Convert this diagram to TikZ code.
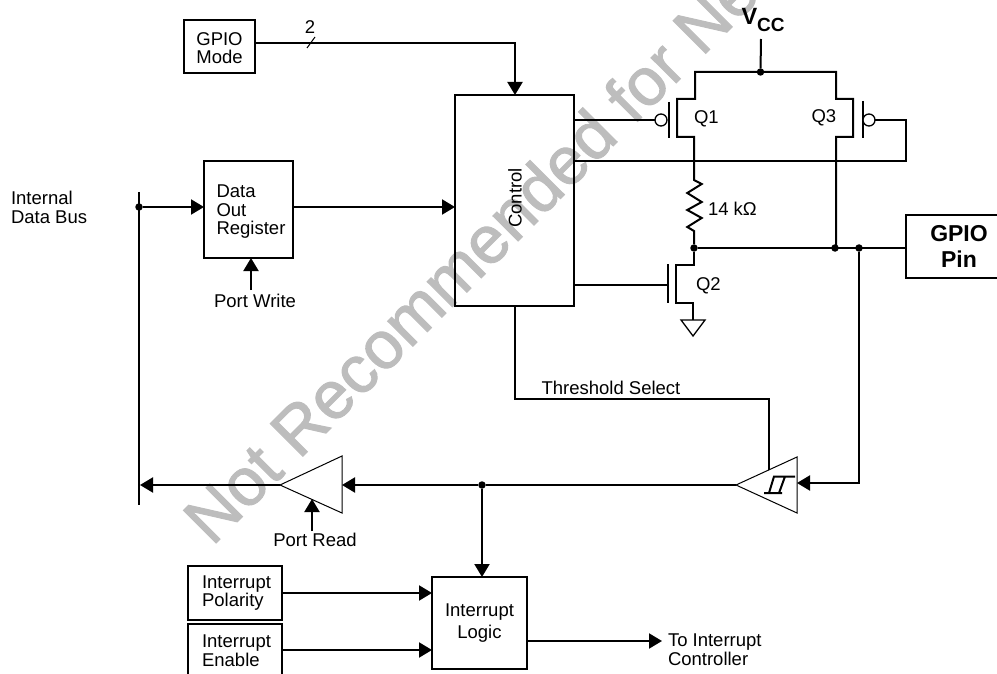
\documentclass[tikz,border=0pt]{standalone}
\usepackage{fontspec}
\setmainfont{Liberation Sans}
\newfontfamily\wmfont[FakeBold=1.6]{Liberation Sans}
\usetikzlibrary{arrows.meta,calc}
\tikzset{
  x=1pt,y=-1pt,
  wire/.style={line width=2pt},
  thin wire/.style={line width=1pt},
  arrowed/.style={wire,-{Triangle[length=13pt,width=15pt]},shorten >=0pt},
  box/.style={draw,line width=2pt,inner sep=0pt,outer sep=0pt,align=left,font=\fontsize{18.5}{18.8}\selectfont},
  lbl/.style={inner sep=0pt,outer sep=0pt,align=left,font=\fontsize{18.5}{18.8}\selectfont},
  junction/.style={circle,fill=black,inner sep=0pt,outer sep=0pt,minimum size=7.5pt},
  bubble/.style={circle,draw,fill=white,line width=1.3pt,inner sep=0pt,outer sep=0pt,minimum size=12pt},
}
\definecolor{mark}{gray}{0.74}
\begin{document}
\begin{tikzpicture}
\useasboundingbox (0,0) rectangle (997,674);
% watermark
\node[anchor=base west,rotate=45,inner sep=0pt,text=mark,font=\wmfont\fontsize{67}{67}\selectfont] (wm) at (212,547) {Not Recommended for Ne};
% boxes
\node[box,minimum width=71pt,minimum height=53pt] (mode) at (219.5,46.5) {\rule{0pt}{16pt}GPIO\\Mode};
\node[box,minimum width=119pt,minimum height=211pt] (ctrl) at (514.5,200.5) {};
\node[lbl,rotate=90] (ctrltext) at (515,198) {Control};
\node[box,minimum width=89pt,minimum height=97pt] (dor) at (248.5,209.5) {\rule{0pt}{17pt}\hspace*{5pt}Data\\\hspace*{5pt}Out\\\hspace*{5pt}Register};
\node[box,minimum width=94pt,minimum height=54pt] (pol) at (235,593) {\hspace*{3pt}Interrupt\\\hspace*{3pt}Polarity};
\node[box,minimum width=94pt,minimum height=54pt] (ena) at (235,651) {\hspace*{3pt}Interrupt\\\hspace*{3pt}Enable};
\node[box,minimum width=95pt,minimum height=92pt,align=center] (ilog) at (479.5,623) {Interrupt\\[3pt]Logic};
\node[box,minimum width=106pt,minimum height=63pt,align=center,font=\fontsize{23}{26}\bfseries\selectfont] (pin) at (959,246.5) {GPIO\\Pin};
% labels
\node[lbl,anchor=west] (bus) at (11,207) {Internal\\Data Bus};
\node[lbl] (pw) at (255,300.5) {Port Write};
\node[lbl] (pr) at (315,539.5) {Port Read};
\node[lbl] (ts) at (611,388) {Threshold Select};
\node[lbl,anchor=west] (toic) at (668,650) {To Interrupt\\Controller};
\node[lbl] (two) at (310,27) {2};
\node[lbl,anchor=west] (q1) at (694,118.5) {Q1};
\node[lbl,anchor=west] (q3) at (811.5,117.5) {Q3};
\node[lbl,anchor=west] (q2) at (696,285.5) {Q2};
\node[lbl,anchor=west] (res) at (708,208.5) {14 kΩ};
\node[anchor=base west,inner sep=0pt,font=\fontsize{23.5}{24}\bfseries\selectfont] (v) at (741.5,25) {V};
\node[anchor=base west,inner sep=0pt,font=\fontsize{19}{20}\bfseries\selectfont] (cc) at (757,32) {CC};
% junctions
\node[junction] (jbus) at (139,207) {};
\node[junction] (jvcc) at (760.5,72) {};
\node[junction] (jmid) at (694,248) {};
\node[junction] (jq3) at (835,248) {};
\node[junction] (jin) at (859,248) {};
\node[junction] (jrd) at (482,485) {};
% named free ends
\coordinate (bustop) at (139,192);
\coordinate (busbot) at (139,505);
\coordinate (pwb) at (251,290);
\coordinate (pwt) at (251,258);
\coordinate (prb) at (312,531);
\coordinate (prt) at (312,499);
\coordinate (buftip) at (280,485);
\coordinate (bufr) at (342,485);
\coordinate (schtip) at (736,485);
\coordinate (schr) at (797,483);
\coordinate (busend) at (140,485);
\coordinate (vcctop) at (761,39);
\coordinate (ticend) at (662,641);
% buffers
\draw[thin wire,line join=miter] (buftip) -- (342,456) -- (342,513) -- cycle;
\draw[thin wire,line join=miter] (schtip) -- (797,457) -- (797,513) -- cycle;
% bus
\draw[wire] (bustop) -- (busbot);
\draw[arrowed] (jbus) -- (dor.west |- jbus);
\draw[arrowed] (pwb) -- (pwt);
\draw[arrowed] (prb) -- (prt);
\draw[arrowed] (buftip) -- (busend);
\draw[wire] (schtip) -- (jrd);
\draw[arrowed] (jrd) -- (bufr);
\draw[arrowed] (jrd) -- (jrd |- ilog.north);
\draw[arrowed] (pol.east) -- (ilog.west |- pol.east);
\draw[arrowed] (ena.east |- 0,650) -- (ilog.west |- 0,650);
\draw[arrowed] (ilog.east |- ticend) -- (ticend);
% control wiring
\draw[arrowed] (mode.east |- 0,43) -- (515,43) -- (515,95);
\draw[thin wire] (307,48) -- (315,37);
\draw[arrowed] (dor.east |- 0,207) -- (ctrl.west |- 0,207);
\draw[wire] (515,306) -- (515,399) -- (769,399) -- (769,470);
\draw[arrowed] (jin) -- (859,483) -- (schr);
% schmitt glyph
\draw[wire] (773,476.5) -- (795,476.5) (764,493) -- (782,493) (774,476.5) -- (769,493) (785,476.5) -- (779,493);
% Vcc rail and PMOS
\draw[wire] (vcctop) -- (jvcc);
\draw[wire,line join=miter] (jmid) -- (694,231) -- (687.3,227) -- (701.7,218) -- (687.3,210) -- (701.7,202) -- (687.3,193) -- (701.7,184) -- (694,180) -- (694,137) -- (677,137) -- (677,99) -- (695,99) -- (695,72) -- (836,72) -- (836,99) -- (853,99) -- (853,137) -- (836,137) -- (836,248);
\draw[wire] (669,102) -- (669,138);
\draw[wire] (863,101) -- (863,138);
\node[bubble] (b1) at (661,120) {};
\node[bubble] (b3) at (869,120) {};
\draw[wire] (ctrl.east |- b1) -- (b1);
\draw[wire] (b3) -- (906,120) -- (906,161) -- (574,161);
% NMOS
\draw[wire] (jmid) -- (694,265) -- (676,265) -- (676,303) -- (693,303) -- (693,320);
\draw[wire] (668,264) -- (668,303);
\draw[wire] (ctrl.east |- 0,285) -- (668,285);
\draw[line width=1.3pt] (681,320) -- (705,320) -- (693,336) -- cycle;
% output line
\draw[wire] (jmid) -- (pin.west |- jmid);
\end{tikzpicture}
\end{document}
